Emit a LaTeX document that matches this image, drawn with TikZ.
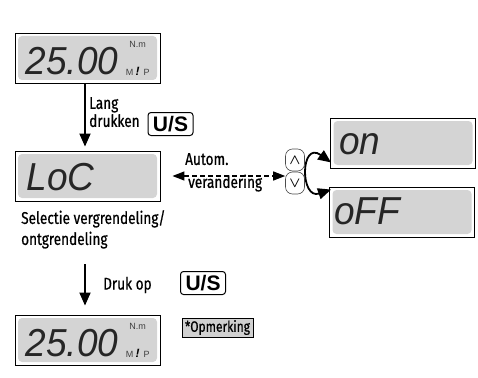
\documentclass[tikz,border=0pt]{standalone}
\usepackage{fontspec}
\usepackage{amsmath,bm}
\usetikzlibrary{arrows.meta,positioning}
\newfontfamily\condfont[FakeStretch=0.8,FakeBold=0.6]{Fira Sans}
\newfontfamily\lcdfont[FakeStretch=0.95]{Liberation Sans}
\newfontfamily\keyfont{Liberation Sans}
\definecolor{lcdgray}{RGB}{212,212,212}
\definecolor{notegray}{RGB}{208,208,208}
\newcommand\unitmarks[1]{%
  \node[unit] (#1-nm) at ([shift={(123pt,-12pt)}]#1.north west) {N.m};
  \node[unit] (#1-m) at ([shift={(115pt,-40pt)}]#1.north west) {M};
  \node[unit,font=\keyfont\bfseries\itshape\fontsize{12}{12}\selectfont,text=black] (#1-i) at ([shift={(123pt,-39pt)}]#1.north west) {!};
  \node[unit] (#1-p) at ([shift={(132pt,-40pt)}]#1.north west) {P};}

\begin{document}
\begin{tikzpicture}[x=1pt,y=-1pt,
display/.style={draw, line width=0.9pt, minimum width=145pt, minimum height=50pt, inner sep=0pt,
  path picture={\fill[lcdgray,rounded corners=4pt] ([shift={(3pt,-3pt)}]path picture bounding box.north west) rectangle ([shift={(-3pt,3pt)}]path picture bounding box.south east);}},
lcd/.style={font=\lcdfont\itshape\fontsize{39}{39}\selectfont, inner sep=0pt, anchor=base west, text=black!85},
unit/.style={font=\keyfont\fontsize{9}{9}\selectfont, inner sep=0pt, text=black!75},
txt/.style={font=\condfont\fontsize{17}{18}\selectfont, align=left, inner sep=0pt},
key/.style={draw, line width=1pt, rounded corners=3pt, font=\keyfont\bfseries\fontsize{21}{21}\selectfont, minimum width=45pt, minimum height=23pt, inner sep=0pt},
btn/.style={draw=black!70, line width=0.6pt, rounded corners=7pt, minimum width=19pt, minimum height=22pt, inner sep=0pt, font=\Large},
flow/.style={line width=1.8pt, -{Triangle[length=13pt,width=11pt]}},
dashflow/.style={line width=1.3pt, dash pattern=on 5pt off 3pt, {Triangle[length=12pt,width=9pt]}-{Triangle[length=12pt,width=9pt]}},
curveflow/.style={line width=1.8pt, {Triangle[length=13pt,width=11pt]}-{Triangle[length=13pt,width=11pt]}}]
\useasboundingbox (0,0) rectangle (478,377);
\node[display] (disptop) at (87.5,58) {};
\node[display] (displock) at (87.5,176) {};
\node[display] (dispbot) at (87.5,340) {};
\node[display] (dispon) at (403,143) {};
\node[display] (dispoff) at (402,212) {};
\node[lcd] (dtop) at ([shift={(11pt,-42pt)}]disptop.north west) {25.00};
\node[lcd] (dlock) at ([shift={(12pt,-40pt)}]displock.north west) {LoC};
\node[lcd] (dbot) at ([shift={(11pt,-42pt)}]dispbot.north west) {25.00};
\node[lcd] (don) at ([shift={(9pt,-37pt)}]dispon.north west) {on};
\node[lcd] (doff) at ([shift={(5pt,-38pt)}]dispoff.north west) {oFF};
\unitmarks{disptop}
\unitmarks{dispbot}
\node[txt, anchor=north west] (lang) at (89,97) {Lang\\drukken};
\node[key] (keyone) at (170.5,124) {U/S};
\node[txt, anchor=north west] (select) at (21,210) {Selectie vergrendeling/\\[3pt]ontgrendeling};
\node[txt, anchor=west] (druk) at (103,285) {Druk op};
\node[key] (keytwo) at (203,283) {U/S};
\node[draw, fill=notegray, line width=0.7pt, minimum width=71pt, minimum height=19pt, inner sep=0pt, font=\condfont\fontsize{15}{15}\selectfont] (note) at (217.5,327.5) {*Opmerking};
\node[txt, anchor=north west] (autom) at (185,153) {Autom.\\[5pt]\hspace*{3pt}verandering};
\node[btn] (btnup) at (295,160) {$\bm{\wedge}$};
\node[btn] (btndown) at (295,183) {$\bm{\vee}$};
\coordinate (lockstart) at (85,264);
\coordinate (tipon) at ([shift={(1pt,6pt)}]dispon.south west);
\coordinate (tipoff) at ([shift={(2pt,-3pt)}]dispoff.north west);
\draw[flow] ([xshift=-2.5pt]disptop.south) -- ([shift={(-2.5pt,4pt)}]displock.north);
\draw[flow] (lockstart) -- ([yshift=9pt]lockstart |- dispbot.north);
\draw[dashflow] ([xshift=12pt]displock.east) -- (displock.east -| btnup.west);
\draw[curveflow] (tipon) .. controls (300,140) and (300,200) .. (tipoff);
\end{tikzpicture}
\end{document}
